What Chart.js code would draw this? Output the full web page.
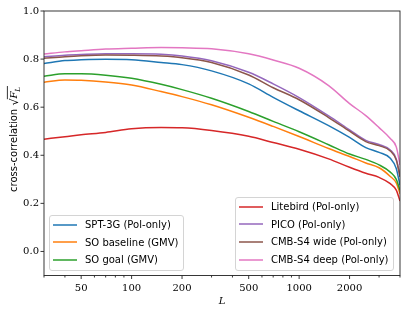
<!DOCTYPE html>
<html>
<head>
<meta charset="utf-8">
<script src="https://cdn.jsdelivr.net/npm/chart.js@4.4.0/dist/chart.umd.min.js"></script>
<style>
  html, body { margin: 0; padding: 0; background: #fff; }
  #wrap { position: relative; width: 407px; height: 314px; }
  .legend {
    position: absolute; box-sizing: border-box;
    background: rgba(255,255,255,0.8); border: 1px solid #d4d4d4; border-radius: 3px;
    font: 10px "DejaVu Sans", sans-serif; color: #000;
  }
  .legend .row { height: 17.6px; display: flex; align-items: center; white-space: nowrap; }
  .legend svg { margin: 0 8px 0 3px; flex: none; }
</style>
</head>
<body>
<div id="wrap">
  <canvas id="chart" width="407" height="314"></canvas>
  <div class="legend" id="legend-left" style="left:49px; top:215px; width:135px; height:56px;"></div>
  <div class="legend" id="legend-right" style="left:235px; top:197px; width:159px; height:74px;"></div>
</div>
<script>
// multipole values (x) shared by all curves
const ells = [30, 40, 50, 70, 100, 150, 200, 300, 500, 700, 1000, 1500, 2000, 2500, 3000, 3500, 3800, 4000];

const spt3g    = [0.782, 0.794, 0.797, 0.799, 0.797, 0.786, 0.777, 0.751, 0.697, 0.641, 0.585, 0.523, 0.474, 0.432, 0.412, 0.388, 0.345, 0.275];
const soBase   = [0.704, 0.713, 0.712, 0.705, 0.692, 0.665, 0.644, 0.61, 0.558, 0.52, 0.478, 0.428, 0.395, 0.368, 0.348, 0.312, 0.285, 0.24];
const soGoal   = [0.729, 0.739, 0.739, 0.733, 0.72, 0.695, 0.673, 0.637, 0.582, 0.541, 0.498, 0.444, 0.405, 0.383, 0.36, 0.33, 0.30, 0.254];
const litebird = [0.467, 0.477, 0.485, 0.495, 0.51, 0.515, 0.514, 0.503, 0.479, 0.453, 0.425, 0.385, 0.35, 0.325, 0.308, 0.282, 0.255, 0.21];
const pico     = [0.81, 0.816, 0.819, 0.822, 0.822, 0.82, 0.813, 0.793, 0.745, 0.697, 0.64, 0.564, 0.506, 0.462, 0.445, 0.422, 0.385, 0.315];
const s4Wide   = [0.803, 0.81, 0.814, 0.817, 0.816, 0.8125, 0.806, 0.786, 0.734, 0.681, 0.631, 0.557, 0.50, 0.457, 0.44, 0.418, 0.38, 0.31];
const s4Deep   = [0.821, 0.83, 0.835, 0.842, 0.845, 0.848, 0.847, 0.843, 0.822, 0.796, 0.762, 0.69, 0.615, 0.565, 0.515, 0.47, 0.435, 0.36];

const seriesNames = ['SPT-3G (Pol-only)', 'SO baseline (GMV)', 'SO goal (GMV)', 'Litebird (Pol-only)',
                     'PICO (Pol-only)', 'CMB-S4 wide (Pol-only)', 'CMB-S4 deep (Pol-only)'];
const seriesValues = [spt3g, soBase, soGoal, litebird, pico, s4Wide, s4Deep];
const seriesColors = ['#1f77b4', '#ff7f0e', '#2ca02c', '#d62728', '#9467bd', '#8c564b', '#e377c2'];

const xTickLabels = [50, 100, 200, 500, 1000, 2000];
const xMinorTicks = [30, 40, 60, 70, 80, 90, 300, 400, 600, 700, 800, 900, 3000, 4000];
const yTickValues = [0.0, 0.2, 0.4, 0.6, 0.8, 1.0];

// frame, tick marks and axis titles (matplotlib look)
const axisDecor = {
  id: 'axisDecor',
  afterDraw(chart) {
    const { ctx, chartArea: a, scales: { x, y } } = chart;
    ctx.save();
    ctx.strokeStyle = '#222';
    ctx.lineWidth = 0.9;
    ctx.strokeRect(a.left, a.top, a.right - a.left, a.bottom - a.top);

    ctx.beginPath();
    xTickLabels.forEach(v => {
      const px = x.getPixelForValue(v);
      ctx.moveTo(px, a.bottom); ctx.lineTo(px, a.bottom + 3.5);
    });
    xMinorTicks.forEach(v => {
      const px = x.getPixelForValue(v);
      ctx.moveTo(px, a.bottom); ctx.lineTo(px, a.bottom + 2);
    });
    yTickValues.forEach(v => {
      const py = y.getPixelForValue(v);
      ctx.moveTo(a.left, py); ctx.lineTo(a.left - 3.5, py);
    });
    ctx.stroke();

    // x title
    ctx.fillStyle = '#000';
    ctx.font = 'italic 10px "DejaVu Serif"';
    ctx.textAlign = 'center';
    ctx.textBaseline = 'middle';
    ctx.fillText('L', (a.left + a.right) / 2, 301);

    // y title: cross-correlation sqrt(F_L)
    ctx.translate(17, 139);
    ctx.rotate(-Math.PI / 2);
    ctx.textAlign = 'left';
    ctx.textBaseline = 'alphabetic';
    const t1 = 'cross-correlation ';
    ctx.font = '10px "DejaVu Sans"';
    const w1 = ctx.measureText(t1).width;
    ctx.font = '11px "DejaVu Sans"';
    const wr = ctx.measureText('\u221A').width;
    ctx.font = 'italic 10px "DejaVu Serif"';
    const wF = ctx.measureText('F').width;
    ctx.font = 'italic 7px "DejaVu Serif"';
    const wL = ctx.measureText('L').width;
    const total = w1 + wr + wF + wL + 1;
    let cx = -total / 2;
    ctx.font = '10px "DejaVu Sans"';
    ctx.fillText(t1, cx, 0);
    cx += w1;
    ctx.font = '11px "DejaVu Sans"';
    ctx.fillText('\u221A', cx, 0.5);
    const rootEnd = cx + wr;
    cx += wr;
    ctx.font = 'italic 10px "DejaVu Serif"';
    ctx.fillText('F', cx, 0);
    cx += wF;
    ctx.font = 'italic 7px "DejaVu Serif"';
    ctx.fillText('L', cx, 2.5);
    cx += wL + 1;
    ctx.beginPath();
    ctx.lineWidth = 0.8;
    ctx.strokeStyle = '#000';
    ctx.moveTo(rootEnd - 0.6, -9.6);
    ctx.lineTo(cx, -9.6);
    ctx.stroke();
    ctx.restore();
  }
};

function buildLegend(id, indices) {
  const box = document.getElementById(id);
  box.innerHTML = indices.map(i => `
    <div class="row"><svg width="24" height="4"><line x1="0" y1="2" x2="24" y2="2" stroke="${seriesColors[i]}" stroke-width="1.5"/></svg>${seriesNames[i]}</div>
  `).join('');
}

const datasets = seriesValues.map((vals, i) => ({
  label: seriesNames[i],
  data: ells.map((l, k) => ({ x: l, y: vals[k] })),
  borderColor: seriesColors[i],
  backgroundColor: seriesColors[i],
  borderWidth: 1.5,
  pointRadius: 0,
  fill: false,
  cubicInterpolationMode: 'monotone',
  order: seriesValues.length - i
}));

new Chart(document.getElementById('chart'), {
  type: 'line',
  data: { datasets },
  options: {
    responsive: false,
    animation: false,
    layout: { padding: { top: 11, right: 7, bottom: 0, left: 0 } },
    plugins: { legend: { display: false }, tooltip: { enabled: false } },
    scales: {
      x: {
        type: 'logarithmic',
        min: 30,
        max: 4000,
        grid: { display: false, drawTicks: false },
        border: { display: false },
        afterBuildTicks: s => { s.ticks = xTickLabels.map(v => ({ value: v })); },
        afterFit: s => { s.height = 38.5; },
        ticks: {
          autoSkip: false, maxRotation: 0, padding: 7,
          color: '#000', font: { family: 'DejaVu Serif', size: 10 },
          callback: v => String(v)
        }
      },
      y: {
        type: 'linear',
        min: -0.1,
        max: 1.0,
        grid: { display: false, drawTicks: false },
        border: { display: false },
        afterBuildTicks: s => { s.ticks = yTickValues.map(v => ({ value: v })); },
        afterFit: s => { s.width = 44; },
        ticks: {
          padding: 5,
          color: '#000', font: { family: 'DejaVu Serif', size: 10 },
          callback: v => Number(v).toFixed(1)
        }
      }
    }
  },
  plugins: [axisDecor]
});

buildLegend('legend-left', [0, 1, 2]);
buildLegend('legend-right', [3, 4, 5, 6]);
</script>
</body>
</html>
